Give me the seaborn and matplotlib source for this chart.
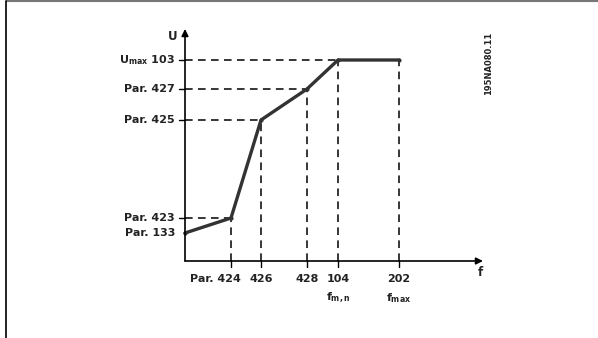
import seaborn as sns
import matplotlib.pyplot as plt
import pandas as pd

# breakpoints of the U/f curve (axis origin = 0)
f_ticks = ["Par. 424", "426", "428", "104", "202"]
f_pos = [46, 76, 122, 153, 214]
u_ticks = ["Par. 133", "Par. 423", "Par. 425", "Par. 427", "U$_{\\mathbf{max}}$ 103"]
u_pos = [28, 43, 141, 172, 201]

curve_f = [0, 46, 76, 122, 153, 214]
curve_u = [28, 43, 141, 172, 201, 201]

sns.set_theme(style="white")
plt.rcParams["font.family"] = ["DejaVu Sans"]

fig = plt.figure(figsize=(5.98, 3.38), dpi=100)
ax = fig.add_axes([0, 0, 1, 1])
ax.set_xlim(-185, 413)
ax.set_ylim(-77, 261)
ax.axis("off")

# frame (top and left only)
ax.plot([-179, 413], [260, 260], color="#777777", lw=1.5, solid_capstyle="butt")
ax.plot([-179, -179], [-77, 260], color="black", lw=1.2)

dash = dict(color="black", lw=1.1, linestyle=(0, (5, 3.5)))
# guide lines
for fx, uy in zip(curve_f[1:5], curve_u[1:5]):
    ax.plot([0, fx], [uy, uy], **dash)
    ax.plot([fx, fx], [0, uy], **dash)
ax.plot([214, 214], [0, 201], **dash)

# axes with arrows
ax.annotate("", xy=(0, 232), xytext=(0, 0),
            arrowprops=dict(arrowstyle="-|>", color="black", lw=1.2,
                            mutation_scale=10, shrinkA=0, shrinkB=0))
ax.annotate("", xy=(298, 0), xytext=(0, 0),
            arrowprops=dict(arrowstyle="-|>", color="black", lw=1.2,
                            mutation_scale=10, shrinkA=0, shrinkB=0))

# ticks
for y in u_pos[1:]:
    ax.plot([-6, 0], [y, y], color="black", lw=1.0)
for x in f_pos:
    ax.plot([x, x], [0, -6], color="black", lw=1.0)

# the curve
df = pd.DataFrame({"f": curve_f, "U": curve_u})
sns.lineplot(data=df, x="f", y="U", ax=ax, color="#333333", lw=2.4,
             sort=False, marker="o", markersize=3, markeredgewidth=0)

txt = dict(fontsize=8, fontweight="bold", color="#222222")
for lab, y in zip(u_ticks, u_pos):
    ax.text(-10, y, lab, ha="right", va="center", **txt)
for lab, x in zip(f_ticks, f_pos):
    if lab.startswith("Par"):
        ax.text(x + 10, -18, lab, ha="right", va="center", **txt)
    else:
        ax.text(x, -18, lab, ha="center", va="center", **txt)
ax.text(153, -37, "f$_{\\mathbf{m,n}}$", ha="center", va="center", **txt)
ax.text(214, -37, "f$_{\\mathbf{max}}$", ha="center", va="center", **txt)
ax.text(-12, 225, "U", ha="center", va="center", fontsize=8.5, fontweight="bold", color="#222222")
ax.text(295, -11, "f", ha="center", va="center", fontsize=8.5, fontweight="bold", color="#222222")
ax.text(304, 198, "195NA080.11", rotation=90, ha="center", va="center",
        fontsize=6, fontweight="bold", color="#222222")

fig.savefig("out.png", dpi=100)
